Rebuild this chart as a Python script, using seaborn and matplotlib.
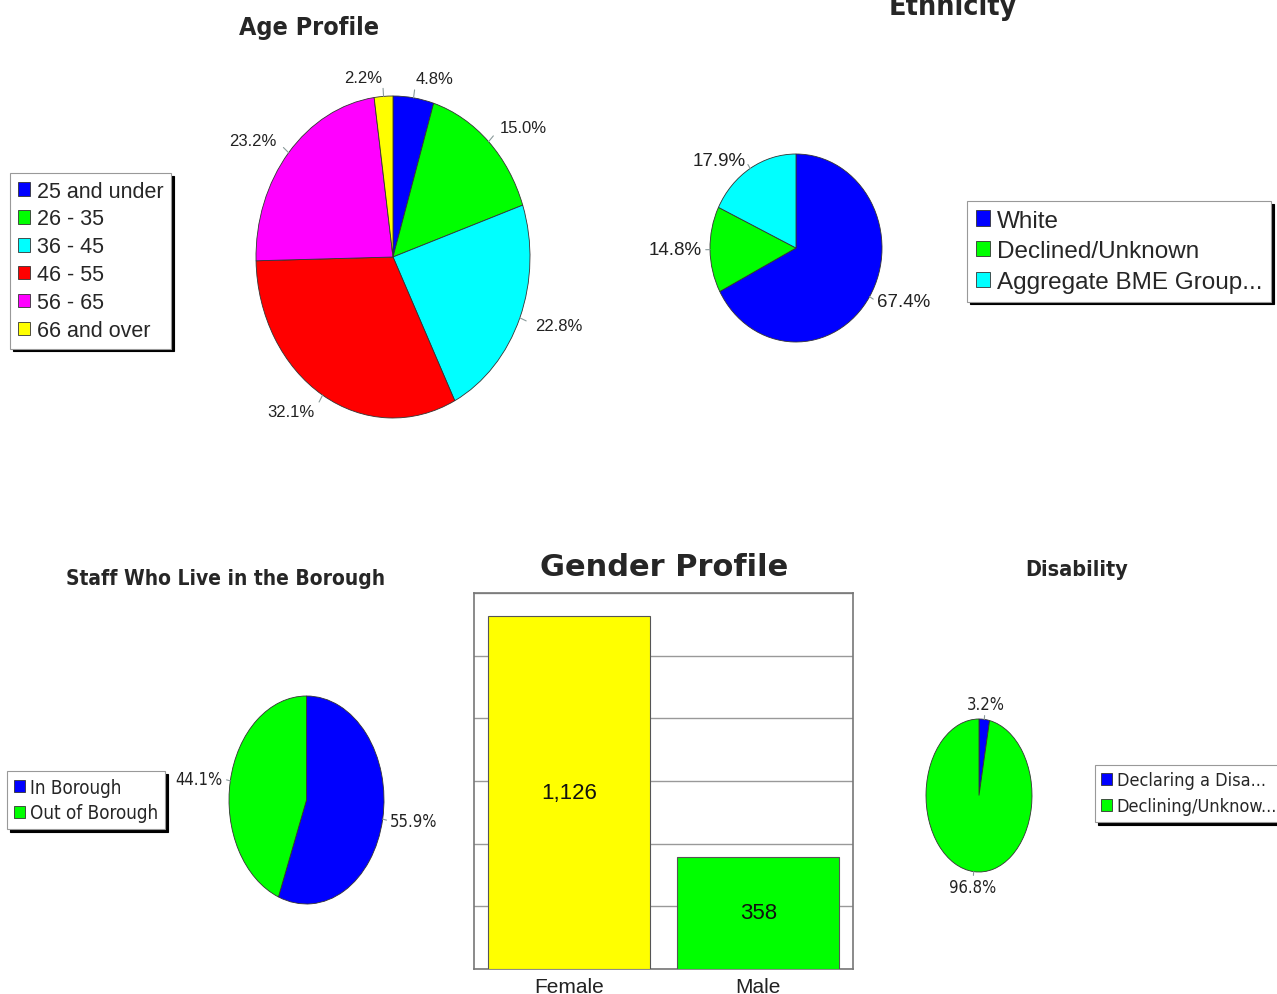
import numpy as np
import matplotlib
matplotlib.use("Agg")
import matplotlib.pyplot as plt
from matplotlib.font_manager import FontProperties
import seaborn as sns

# ---- data ----
age_groups = ["25 and under", "26 - 35", "36 - 45", "46 - 55", "56 - 65", "66 and over"]
age_pct = [4.8, 15.0, 22.8, 32.1, 23.2, 2.2]

eth_groups = ["White", "Declined/Unknown", "Aggregate BME Group..."]
eth_pct = [67.4, 14.8, 17.9]

borough_groups = ["In Borough", "Out of Borough"]
borough_pct = [55.9, 44.1]

dis_groups = ["Declaring a Disa...", "Declining/Unknow..."]
dis_pct = [3.2, 96.8]

genders = ["Female", "Male"]
gender_counts = [1126, 358]

BLUE, GREEN, CYAN = "#0000ff", "#00ff00", "#00ffff"
RED, MAGENTA, YELLOW = "#ff0000", "#ff00ff", "#ffff00"

REG = ["Liberation Sans", "DejaVu Sans"]
NARROW = ["DejaVu Sans"]

W, H = 1277, 995

sns.set_style("white")
plt.rcParams["font.family"] = REG


def px_rect(x0, y0, x1, y1):
    return [x0 / W, 1 - y1 / H, (x1 - x0) / W, (y1 - y0) / H]


def font(family, size, weight="normal"):
    stretch = "condensed" if family is NARROW else "normal"
    return {"family": family, "size": size, "weight": weight, "stretch": stretch}


def draw_pie(ax, values, colors, label_r=1.12, size=12, family=REG, center_top=False):
    wedges, _ = ax.pie(values, colors=colors, startangle=90, counterclock=False,
                       wedgeprops=dict(edgecolor="#333333", linewidth=0.6))
    ax.set_aspect("auto")
    ax.set_xlim(-1, 1)
    ax.set_ylim(-1, 1)
    total = sum(values)
    cum = 0
    for v in values:
        mid = np.deg2rad(90 - 360 * (cum + v / 2) / total)
        cum += v
        x, y = np.cos(mid), np.sin(mid)
        ax.plot([x, x * 1.05], [y, y * 1.05], color="#8a9a9a", lw=0.8, clip_on=False)
        if center_top and abs(x) < 0.3:
            ha = "center"
        else:
            ha = "left" if x > 0 else "right"
        ax.text(x * label_r, y * label_r, f"{v:.1f}%", ha=ha, va="center",
                color="#222222", **font(family, size))
    return wedges


def add_legend(fig, handles, labels, x, y, size, family=REG, spacing=0.25, textpad=0.3):
    fp = FontProperties(**font(family, size))
    leg = fig.legend(handles, labels, loc="upper left", bbox_to_anchor=(x / W, 1 - y / H),
                     frameon=True, fancybox=False, shadow={"color": "black", "alpha": 1},
                     prop=fp, handlelength=0.6,
                     handleheight=0.6, handletextpad=textpad, labelspacing=spacing,
                     borderpad=0.35, borderaxespad=0)
    leg.get_frame().set_edgecolor("#999999")
    leg.get_frame().set_linewidth(0.8)
    return leg


fig = plt.figure(figsize=(W / 100, H / 100), dpi=100)

# Age Profile
ax_age = fig.add_axes(px_rect(256, 97, 530, 419))
w = draw_pie(ax_age, age_pct, [BLUE, GREEN, CYAN, RED, MAGENTA, YELLOW], label_r=1.12, size=12)
add_legend(fig, w, age_groups, 10, 174, 15.5, spacing=0.32)
fig.text(309 / W, 1 - 35 / H, "Age Profile", ha="center", va="baseline",
         **font(NARROW, 18, "bold"))

# Ethnicity
ax_eth = fig.add_axes(px_rect(710, 155, 882, 343))
w = draw_pie(ax_eth, eth_pct, [BLUE, GREEN, CYAN], label_r=1.1, size=13.5)
add_legend(fig, w, eth_groups, 967, 202, 17.5, spacing=0.36)
fig.text(953 / W, 1 - 15 / H, "Ethnicity", ha="center", va="baseline",
         **font(NARROW, 20.5, "bold"))

# Staff who live in the borough
ax_bor = fig.add_axes(px_rect(229, 697, 384, 905))
w = draw_pie(ax_bor, borough_pct, [BLUE, GREEN], label_r=1.1, size=12, family=NARROW)
add_legend(fig, w, borough_groups, 7, 772, 13.5, family=NARROW, spacing=0.36)
fig.text(226 / W, 1 - 585 / H, "Staff Who Live in the Borough", ha="center", va="baseline",
         **font(NARROW, 15, "bold"))

# Disability
ax_dis = fig.add_axes(px_rect(926, 720, 1032, 873))
w = draw_pie(ax_dis, dis_pct, [BLUE, GREEN], label_r=1.2, size=12, family=NARROW,
             center_top=True)
add_legend(fig, w, dis_groups, 1095, 766, 13, family=NARROW, spacing=0.45, textpad=0.25)
fig.text(1077 / W, 1 - 576 / H, "Disability", ha="center", va="baseline",
         **font(NARROW, 15.5, "bold"))

# Gender Profile
ax_g = fig.add_axes(px_rect(474, 594, 853, 970))
sns.barplot(x=genders, y=gender_counts, hue=genders, palette=[YELLOW, GREEN],
            saturation=1, width=0.855, edgecolor="#555555", linewidth=0.8,
            legend=False, ax=ax_g, zorder=3)
ax_g.set_xlim(-0.5, 1.5)
ax_g.set_ylim(0, 1200)
ax_g.set_yticks(np.arange(0, 1201, 200))
ax_g.set_yticklabels([])
ax_g.yaxis.grid(True, color="#999999", lw=1)
ax_g.set_axisbelow(True)
for s in ax_g.spines.values():
    s.set_visible(True)
    s.set_color("#777777")
    s.set_linewidth(1.2)
ax_g.tick_params(axis="x", length=4, color="#777777", labelsize=15, pad=2,
                 labelcolor="#222222")
ax_g.tick_params(axis="y", length=0)
ax_g.set_xlabel("")
ax_g.set_ylabel("")
for cont in ax_g.containers:
    ax_g.bar_label(cont, labels=[f"{v:,.0f}" for v in cont.datavalues],
                   label_type="center", fontsize=16, color="#111111")
fig.text(664 / W, 1 - 576 / H, "Gender Profile", ha="center", va="baseline",
         family="DejaVu Sans", fontsize=22, fontweight="bold")

fig.savefig("out.png", dpi=100)
